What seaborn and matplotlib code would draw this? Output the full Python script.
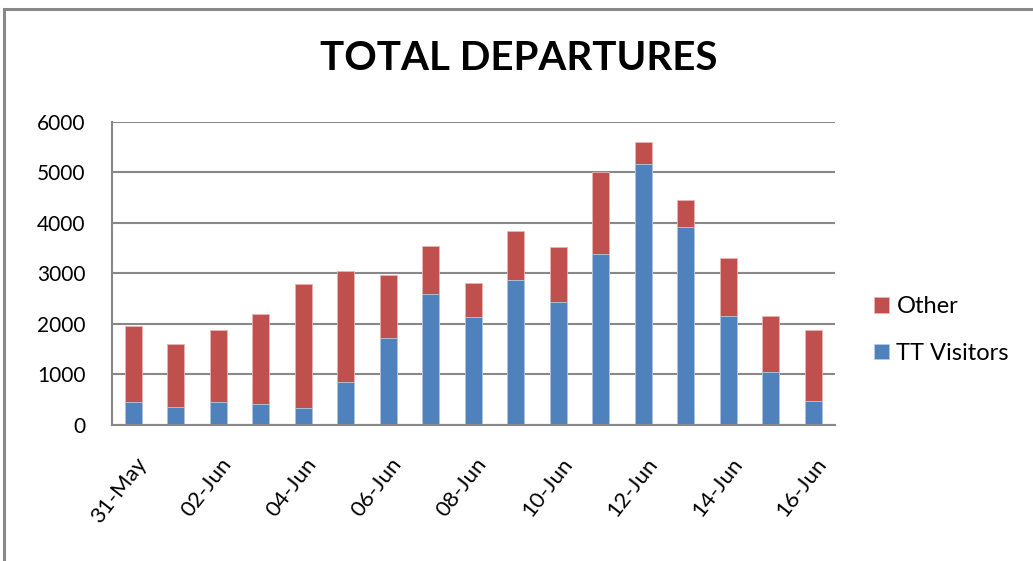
import numpy as np
import pandas as pd
import matplotlib
matplotlib.use("Agg")
import matplotlib.pyplot as plt
import matplotlib.transforms as mtransforms
import seaborn as sns
from matplotlib.patches import Rectangle

dates = ["31-May", "01-Jun", "02-Jun", "03-Jun", "04-Jun", "05-Jun", "06-Jun",
         "07-Jun", "08-Jun", "09-Jun", "10-Jun", "11-Jun", "12-Jun", "13-Jun",
         "14-Jun", "15-Jun", "16-Jun"]
tt_visitors = [456, 350, 456, 423, 337, 853, 1718, 2597, 2130, 2868, 2433,
               3382, 5163, 3916, 2156, 1042, 475]
other = [1494, 1256, 1428, 1771, 2459, 2187, 1250, 952, 679, 976, 1094,
         1622, 428, 541, 1147, 1121, 1398]

blue = "#4F81BD"
red = "#C0504D"
grid_col = "#888888"

df = pd.DataFrame({"date": dates, "tt": tt_visitors, "other": other})
df["total"] = df["tt"] + df["other"]

sns.set_style("white")
plt.rcParams["font.family"] = ["Lato", "DejaVu Sans"]
plt.rcParams["text.color"] = "black"

fig = plt.figure(figsize=(10.33, 5.61), dpi=100)
W, H = 1033, 561
ax = fig.add_axes([112 / W, 1 - 425 / H, (834.5 - 112) / W, (425 - 121.7) / H])

sns.barplot(data=df, x="date", y="total", color=red, width=0.4, ax=ax,
            saturation=1, label="Other", edgecolor="#e8b4b3", linewidth=0.6)
sns.barplot(data=df, x="date", y="tt", color=blue, width=0.4, ax=ax,
            saturation=1, label="TT Visitors", edgecolor="#b6c9e2", linewidth=0.6)

ax.set_xlim(-0.5, len(dates) - 0.5)
ax.set_ylim(0, 6000)
ax.set_yticks(np.arange(0, 6001, 1000))
ax.yaxis.grid(True, color=grid_col, linewidth=1.5)
ax.set_axisbelow(True)
ax.set_xlabel("")
ax.set_ylabel("")

for s in ["top", "right"]:
    ax.spines[s].set_visible(False)
for s in ["left", "bottom"]:
    ax.spines[s].set_color(grid_col)
    ax.spines[s].set_linewidth(1.5)

ax.tick_params(axis="y", length=7, width=1.5, color=grid_col, labelsize=15,
               pad=12, labelcolor="black")

# major ticks at category boundaries, labels on every other day
ax.set_xticks(np.arange(-0.5, len(dates) - 1, 2))
ax.set_xticklabels([])
ax.tick_params(axis="x", which="major", length=7, width=1.5, color=grid_col)
ax.set_xticks(np.arange(0, len(dates), 2), minor=True)
ax.set_xticklabels(dates[::2], minor=True, rotation=52, ha="right", va="top",
                   rotation_mode="anchor", fontsize=16, color="black")
ax.tick_params(axis="x", which="minor", length=0, pad=21)
shift = mtransforms.ScaledTranslation(2 / 100, 0, fig.dpi_scale_trans)
for lbl in ax.get_xticklabels(minor=True):
    lbl.set_transform(lbl.get_transform() + shift)

fig.text(519 / W, 1 - 59 / H, "TOTAL DEPARTURES", ha="center", va="center",
         fontsize=29, fontweight="bold", color="black")

handles, labels = ax.get_legend_handles_labels()
leg = ax.legend(handles, labels, loc="center left",
                bbox_to_anchor=(853 / W, 1 - 330 / H), bbox_transform=fig.transFigure,
                frameon=False, fontsize=17, handlelength=0.64, handleheight=0.64,
                handletextpad=0.3, labelspacing=1.1)

fig.patches.append(Rectangle((3.5 / W, -0.1), 1.2, 1.1 - 9 / H, transform=fig.transFigure,
                             fill=False, edgecolor="#888888", linewidth=2.2))

fig.savefig("out.png", dpi=100, facecolor="white")
